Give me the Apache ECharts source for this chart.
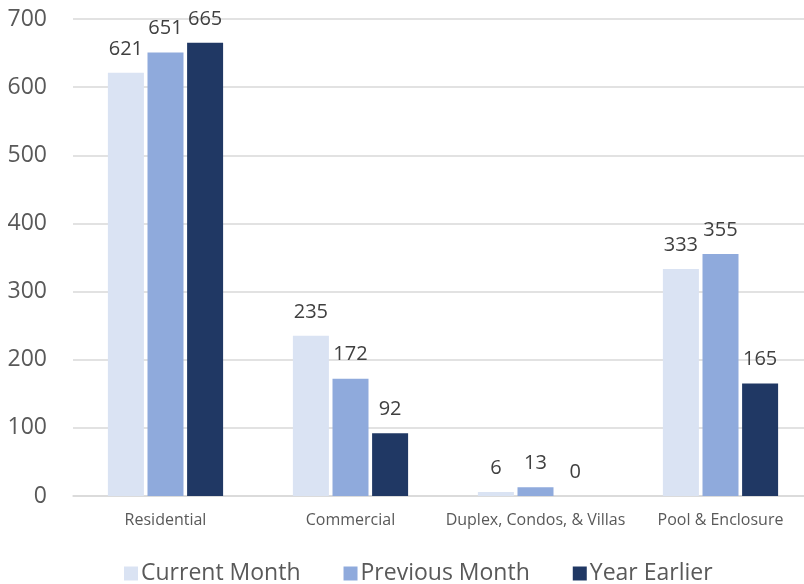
<!DOCTYPE html>
<html><head><meta charset="utf-8">
<script src="https://cdn.jsdelivr.net/npm/echarts@6/dist/echarts.min.js"></script>
<style>html,body{margin:0;padding:0;background:#fff}#c{width:804px;height:584px}</style>
</head><body><div id="c"></div>
<script>
const categories = ["Residential", "Commercial", "Duplex, Condos, & Villas", "Pool & Enclosure"];
const currentMonth = [621, 235, 6, 333];
const previousMonth = [651, 172, 13, 355];
const yearEarlier = [665, 92, 0, 165];
const seriesNames = ["Current Month", "Previous Month", "Year Earlier"];
const colors = ["#DAE3F3", "#8FAADC", "#203864"];
const FONT = "Open Sans";
const chart = echarts.init(document.getElementById('c'), null, {renderer: 'canvas'});
const mk = (name, data, color) => ({
  name, type: 'bar', data, barWidth: 36, barGap: '10%',
  itemStyle: {color},
  label: {show: true, position: 'top', distance: 14, color: '#404040', fontSize: 20, fontFamily: FONT}
});
chart.setOption({
  animation: false,
  color: colors,
  grid: {left: 73, width: 740, top: 19, height: 477, containLabel: false, outerBoundsMode: 'none'},
  legend: {
    bottom: -6, left: 119, itemWidth: 14, itemHeight: 14, itemGap: 43,
    icon: 'rect',
    textStyle: {color: '#595959', fontSize: 23, fontFamily: FONT, padding: [0,0,0,-2]},
    data: seriesNames
  },
  xAxis: {
    type: 'category', data: categories,
    axisLine: {lineStyle: {color: '#D9D9D9', width: 1.5}},
    axisTick: {show: false},
    axisLabel: {color: '#595959', fontSize: 16, fontFamily: FONT, margin: 16, interval: 0}
  },
  yAxis: {
    type: 'value', min: 0, max: 700, interval: 100,
    axisLine: {show: false}, axisTick: {show: false},
    splitLine: {lineStyle: {color: '#D9D9D9', width: 1.5}},
    axisLabel: {color: '#595959', fontSize: 23, fontFamily: FONT, margin: 26}
  },
  series: [
    mk(seriesNames[0], currentMonth, colors[0]),
    mk(seriesNames[1], previousMonth, colors[1]),
    mk(seriesNames[2], yearEarlier, colors[2])
  ]
});
</script></body></html>
